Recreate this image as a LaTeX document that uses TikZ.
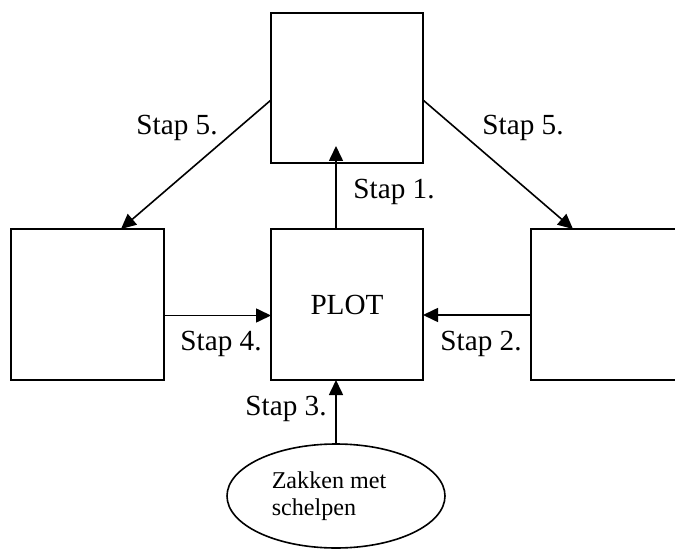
\documentclass[tikz,border=0pt]{standalone}
\usepackage{fontspec}
\setmainfont{Liberation Serif}
\usetikzlibrary{arrows.meta,shapes.geometric}
\begin{document}
\begin{tikzpicture}[x=1bp,y=-1bp,
  box/.style={draw,line width=2bp,minimum width=152bp,minimum height=151bp,inner sep=0pt,outer sep=0pt},
  arr/.style={line width=1.6bp,-{Triangle[length=15bp,width=14bp]}},
  lab/.style={font=\fontsize{29.3}{34}\selectfont,inner sep=0pt},
]
\useasboundingbox (0,0) rectangle (675,549);
\clip (0,0) rectangle (675,549);
\node[box,minimum height=150bp] (top) at (347,88) {};
\node[box] (left) at (87.5,304.5) {};
\node[box,font=\fontsize{29.3}{34}\selectfont] (plot) at (347,304.5) {PLOT};
\node[box] (right) at (607,304.5) {};
\node[draw,ellipse,line width=1.6bp,minimum width=218bp,minimum height=104bp,inner sep=0pt,
  align=left,font=\fontsize{24.2}{27}\selectfont] (ell) at (336,496) {Zakken met\hspace*{14bp}\\schelpen};
\coordinate (tip1) at (336,146);
% connectors
\draw[arr] (plot.north -| tip1) -- (tip1);
\draw[arr] (ell.north) -- (ell.north |- plot.south);
\draw[arr] ([yshift=-10.5bp]right.west) -- ([yshift=-10.5bp]plot.east);
\draw[arr] ([yshift=-11bp]left.east) -- ([yshift=-11bp]plot.west);
\draw[arr] ([yshift=-12bp]top.west) -- ([xshift=33.5bp]left.north);
\draw[arr] ([yshift=-12bp]top.east) -- ([xshift=-34bp]right.north);
% labels
\node[lab] (l5a) at (177,128) {Stap 5.};
\node[lab] (l5b) at (523,128) {Stap 5.};
\node[lab] (l1) at (394,192) {Stap 1.};
\node[lab] (l4) at (221,344) {Stap 4.};
\node[lab] (l2) at (481,343.5) {Stap 2.};
\node[lab] (l3) at (286,409) {Stap 3.};
\end{tikzpicture}
\end{document}
